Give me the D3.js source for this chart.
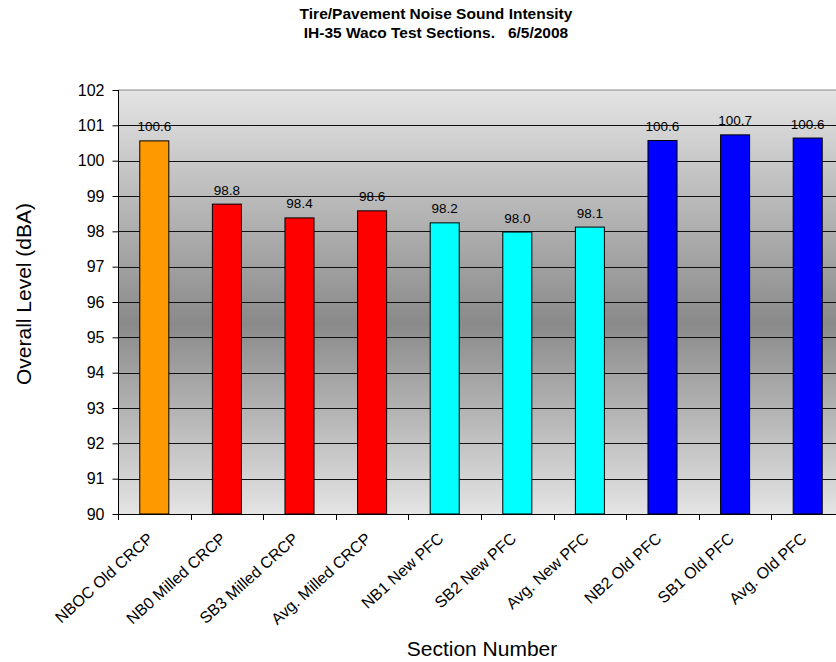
<!DOCTYPE html>
<html>
<head>
<meta charset="utf-8">
<script src="https://cdn.jsdelivr.net/npm/d3@7"></script>
<style>
  html, body { margin: 0; padding: 0; background: #fff; }
  svg { display: block; font-family: "Liberation Sans", Arial, sans-serif; }
</style>
</head>
<body>
<svg id="chart" width="836" height="662"></svg>
<script>
// Section names along the x axis
const categories = [
  "NBOC Old CRCP", "NB0 Milled CRCP", "SB3 Milled CRCP", "Avg. Milled CRCP",
  "NB1 New PFC", "SB2 New PFC", "Avg. New PFC",
  "NB2 Old PFC", "SB1 Old PFC", "Avg. Old PFC"
];
// Overall sound intensity level per section (dBA)
const levels = [100.56, 98.77, 98.38, 98.58, 98.24, 97.98, 98.12, 100.57, 100.73, 100.64];
// Surface group of each section, used for bar colour
const groups = ["old", "milled", "milled", "milled", "new", "new", "new", "oldpfc", "oldpfc", "oldpfc"];
const groupColors = { old: "#FF9900", milled: "#FF0000", new: "#00FFFF", oldpfc: "#0000FF" };
// Y axis tick values
const yTicks = [90, 91, 92, 93, 94, 95, 96, 97, 98, 99, 100, 101, 102];
const titleLines = ["Tire/Pavement Noise Sound Intensity", "IH-35 Waco Test Sections.   6/5/2008"];

const svg = d3.select("#chart");
const plot = { left: 118, top: 90, right: 844, bottom: 514 };

const x = d3.scaleBand().domain(categories).range([plot.left, plot.right]).padding(0);
const y = d3.scaleLinear().domain([90, 102]).range([plot.bottom, plot.top]);
const barW = x.bandwidth() * 0.4;

// Plot background: grey gradient, darkest through the middle
const defs = svg.append("defs");
const grad = defs.append("linearGradient").attr("id", "bg").attr("x1", 0).attr("y1", 0).attr("x2", 0).attr("y2", 1);
grad.append("stop").attr("offset", "0%").attr("stop-color", "#e4e4e4");
grad.append("stop").attr("offset", "55%").attr("stop-color", "#8a8a8a");
grad.append("stop").attr("offset", "100%").attr("stop-color", "#e4e4e4");

svg.append("rect")
  .attr("x", plot.left).attr("y", plot.top)
  .attr("width", plot.right - plot.left).attr("height", plot.bottom - plot.top)
  .attr("fill", "url(#bg)");

// Top border of the plot area
svg.append("line")
  .attr("x1", plot.left).attr("x2", plot.right)
  .attr("y1", y(102)).attr("y2", y(102))
  .attr("stroke", "#888").attr("stroke-width", 1);

// Horizontal gridlines
svg.append("g").selectAll("line")
  .data(yTicks.filter(t => t > 90 && t < 102))
  .join("line")
  .attr("x1", plot.left).attr("x2", plot.right)
  .attr("y1", d => Math.round(y(d)) + 0.5).attr("y2", d => Math.round(y(d)) + 0.5)
  .attr("stroke", "#111").attr("stroke-width", 1);

// Bars
svg.append("g").selectAll("rect")
  .data(categories)
  .join("rect")
  .attr("x", (d) => x(d) + (x.bandwidth() - barW) / 2)
  .attr("y", (d, i) => y(levels[i]))
  .attr("width", barW)
  .attr("height", (d, i) => y(90) - y(levels[i]))
  .attr("fill", (d, i) => groupColors[groups[i]])
  .attr("stroke", "#000").attr("stroke-width", 1);

// Value labels above bars
svg.append("g").selectAll("text")
  .data(categories)
  .join("text")
  .attr("x", d => x(d) + x.bandwidth() / 2)
  .attr("y", (d, i) => y(levels[i]) - 9.5)
  .attr("text-anchor", "middle")
  .attr("font-size", 13.5)
  .attr("fill", "#000")
  .text((d, i) => d3.format(".1f")(levels[i]));

// Y axis
const yAxis = d3.axisLeft(y).tickValues(yTicks).tickSize(6).tickPadding(8).tickFormat(d3.format("d"));
const gy = svg.append("g").attr("transform", `translate(${plot.left + 0.5},0)`).call(yAxis);
gy.select(".domain").attr("stroke", "#000").attr("d", `M0,${plot.top}V${plot.bottom}`);
gy.selectAll(".tick line").attr("stroke", "#000");
gy.selectAll(".tick text").attr("font-size", 16).attr("fill", "#000").attr("font-family", "Liberation Sans, Arial, sans-serif");

// X axis line and tick marks between categories
svg.append("line")
  .attr("x1", plot.left).attr("x2", plot.right)
  .attr("y1", plot.bottom + 0.5).attr("y2", plot.bottom + 0.5)
  .attr("stroke", "#000");
svg.append("g").selectAll("line")
  .data(categories)
  .join("line")
  .attr("x1", d => Math.round(x(d)) + 0.5).attr("x2", d => Math.round(x(d)) + 0.5)
  .attr("y1", plot.bottom).attr("y2", plot.bottom + 6)
  .attr("stroke", "#000");

// Rotated category labels
svg.append("g").selectAll("text")
  .data(categories)
  .join("text")
  .attr("transform", d => `translate(${x(d) + x.bandwidth() / 2},${plot.bottom + 26}) rotate(-42)`)
  .attr("text-anchor", "end")
  .attr("font-size", 16)
  .attr("fill", "#000")
  .text(d => d);

// Title
svg.append("g").selectAll("text")
  .data(titleLines)
  .join("text")
  .attr("x", 436)
  .attr("y", (d, i) => 19 + i * 18.5)
  .attr("text-anchor", "middle")
  .attr("font-size", 15.5)
  .attr("font-weight", "bold")
  .attr("fill", "#000")
  .attr("xml:space", "preserve")
  .style("white-space", "pre")
  .text(d => d);

// Axis titles
svg.append("text")
  .attr("x", 482).attr("y", 656)
  .attr("text-anchor", "middle")
  .attr("font-size", 21)
  .attr("fill", "#000")
  .text("Section Number");

svg.append("text")
  .attr("transform", "translate(31,294) rotate(-90)")
  .attr("text-anchor", "middle")
  .attr("font-size", 21)
  .attr("fill", "#000")
  .text("Overall Level (dBA)");
</script>
</body>
</html>
